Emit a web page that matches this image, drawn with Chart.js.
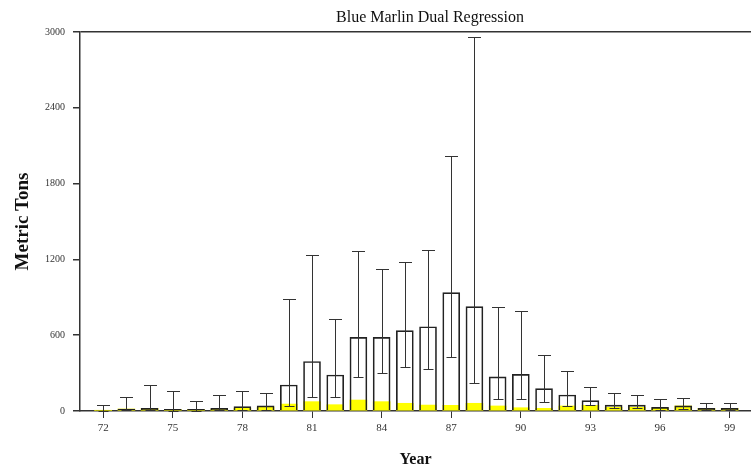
<!DOCTYPE html>
<html>
<head>
<meta charset="utf-8">
<title>Blue Marlin Dual Regression</title>
<script src="https://cdn.jsdelivr.net/npm/chart.js@4.4.1/dist/chart.umd.min.js"></script>
<style>
  html, body { margin: 0; padding: 0; background: #fff; }
  canvas { display: block; }
</style>
</head>
<body>
<canvas id="myChart" width="751" height="470"></canvas>
<script>
/* ====  Data  ======== */
const years = [72, 73, 74, 75, 76, 77, 78, 79, 80, 81, 82, 83, 84, 85,
  86, 87, 88, 89, 90, 91, 92, 93, 94, 95, 96, 97, 98, 99];
// white boxes (estimate)
const estimate = [5, 16, 21, 13, 13, 21, 34, 40, 206, 392, 285, 583, 583, 636,
  667, 937, 826, 270, 290, 177, 127, 82, 47, 47, 29, 40, 21, 21];
// yellow bars
const observed = [2, 16, 21, 13, 13, 13, 21, 30, 55, 74, 50, 87, 74, 61,
  47, 45, 61, 40, 26, 21, 40, 45, 30, 30, 21, 40, 21, 21];
// error bar limits
const lower = [0, 5, 5, 2, 2, 5, 8, 10, 40, 113, 113, 272, 298, 348,
  334, 428, 219, 92, 92, 70, 40, 47, 20, 20, 10, 15, 10, 10];
const upper = [47, 113, 206, 158, 79, 127, 155, 140, 890, 1235, 726, 1269, 1122, 1177,
  1272, 2019, 2963, 826, 794, 446, 319, 193, 145, 127, 92, 105, 66, 66];
const xTicks = [72, 75, 78, 81, 84, 87, 90, 93, 96, 99];
const yTicks = [0, 600, 1200, 1800, 2400, 3000];
const chartTitle = "Blue Marlin Dual Regression";

const serif = "'Liberation Serif', 'Times New Roman', serif";
const ink = "#333";

/* ====  Error bars + title  ======== */
const errorBars = {
  id: "errorBars",
  afterDatasetsDraw(chart) {
    const { ctx, scales: { x, y } } = chart;
    ctx.save();
    ctx.strokeStyle = ink;
    ctx.lineWidth = 1;
    years.forEach((yr, i) => {
      const px = Math.round(x.getPixelForValue(yr)) + 0.5;
      const top = Math.round(y.getPixelForValue(upper[i])) + 0.5;
      const bot = Math.round(y.getPixelForValue(lower[i])) + 0.5;
      ctx.beginPath();
      ctx.moveTo(px, bot);
      ctx.lineTo(px, top);
      ctx.moveTo(px - 6.5, top);
      ctx.lineTo(px + 6.5, top);
      ctx.moveTo(px - 5, bot);
      ctx.lineTo(px + 5, bot);
      ctx.stroke();
    });
    ctx.restore();
  },
  afterDraw(chart) {
    // the original plot ran past the right edge, so the title sits right of centre
    const { ctx, chartArea } = chart;
    ctx.save();
    ctx.fillStyle = "#111";
    ctx.font = "16px " + serif;
    ctx.textAlign = "center";
    ctx.textBaseline = "middle";
    ctx.fillText(chartTitle, chartArea.left + 350, 18);
    ctx.restore();
  },
};

new Chart(document.getElementById("myChart"), {
  type: "bar",
  data: {
    datasets: [
      {
        label: "Estimate",
        data: years.map((yr, i) => ({ x: yr, y: estimate[i] })),
        backgroundColor: "rgba(255,255,255,0)",
        borderColor: "#222",
        borderWidth: 1,
        grouped: false,
        barThickness: 17,
      },
      {
        label: "Observed",
        data: years.map((yr, i) => ({ x: yr, y: observed[i] })),
        backgroundColor: "#ffff00",
        borderWidth: 0,
        grouped: false,
        barThickness: 17,
      },
    ],
  },
  options: {
    responsive: false,
    animation: false,
    layout: { padding: { top: 32 } },
    scales: {
      x: {
        type: "linear",
        min: 71,
        max: 99.92,
        offset: false,
        afterBuildTicks: (axis) => {
          axis.ticks = xTicks.map((v) => ({ value: v }));
        },
        afterFit: (scale) => {
          scale.height = 59;
        },
        grid: {
          offset: false,
          drawOnChartArea: false,
          tickLength: 7,
          tickColor: ink,
        },
        border: { color: ink, width: 1.5 },
        ticks: {
          padding: 4,
          color: ink,
          font: { family: serif, size: 11 },
          callback: (v) => String(v),
        },
        title: {
          display: true,
          text: "Year",
          color: "#111",
          font: { family: serif, size: 16, weight: "bold" },
          padding: { top: 0, bottom: 1 },
        },
      },
      y: {
        min: 0,
        max: 3000,
        afterBuildTicks: (axis) => {
          axis.ticks = yTicks.map((v) => ({ value: v }));
        },
        afterFit: (scale) => {
          scale.width = 80;
        },
        grid: {
          drawOnChartArea: true,
          color: (c) => (c.tick && c.tick.value === 3000 ? ink : "rgba(0,0,0,0)"),
          lineWidth: 1.5,
          tickLength: 7,
          tickColor: ink,
        },
        border: { color: ink, width: 1.5 },
        ticks: {
          padding: 8,
          color: ink,
          font: { family: serif, size: 10 },
          callback: (v) => String(v),
        },
        title: {
          display: true,
          text: "Metric Tons",
          color: "#111",
          font: { family: serif, size: 19, weight: "bold" },
          padding: { top: 12, bottom: 0 },
        },
      },
    },
    plugins: {
      legend: { display: false },
      tooltip: { enabled: false },
      title: { display: false },
    },
  },
  plugins: [errorBars],
});
</script>
</body>
</html>
